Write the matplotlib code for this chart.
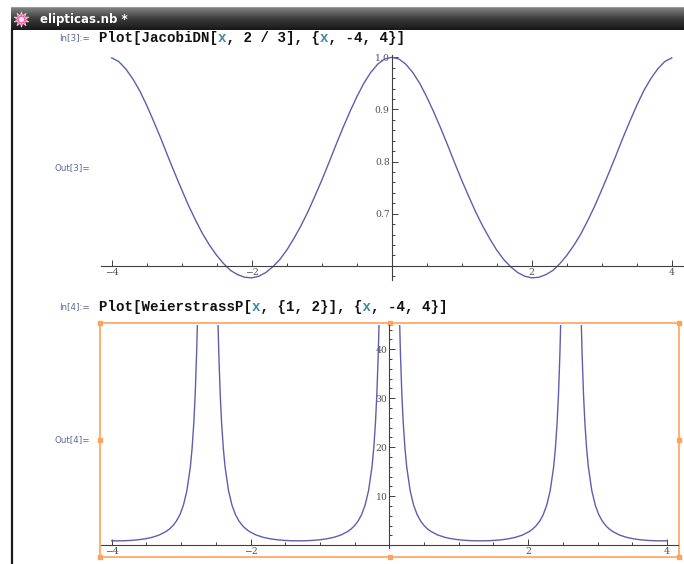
import numpy as np
import matplotlib.pyplot as plt
from matplotlib.patches import Rectangle
from matplotlib.ticker import MultipleLocator, FixedLocator
from matplotlib.colors import LinearSegmentedColormap

W, H = 684, 564

# JacobiDN[x, 2/3]
dn_x = [-4.0, -3.9, -3.8, -3.7, -3.6, -3.5, -3.4, -3.3, -3.2, -3.1,
        -3.0, -2.9, -2.8, -2.7, -2.6, -2.5, -2.4, -2.3, -2.2, -2.1,
        -2.0, -1.9, -1.8, -1.7, -1.6, -1.5, -1.4, -1.3, -1.2, -1.1,
        -1.0, -0.9, -0.8, -0.7, -0.6, -0.5, -0.4, -0.3, -0.2, -0.1,
        0.0, 0.1, 0.2, 0.3, 0.4, 0.5, 0.6, 0.7, 0.8, 0.9,
        1.0, 1.1, 1.2, 1.3, 1.4, 1.5, 1.6, 1.7, 1.8, 1.9,
        2.0, 2.1, 2.2, 2.3, 2.4, 2.5, 2.6, 2.7, 2.8, 2.9,
        3.0, 3.1, 3.2, 3.3, 3.4, 3.5, 3.6, 3.7, 3.8, 3.9, 4.0]
dn_y = [0.999, 0.992, 0.978, 0.959, 0.936, 0.908, 0.877, 0.845, 0.811, 0.778,
        0.746, 0.715, 0.687, 0.661, 0.639, 0.620, 0.604, 0.591, 0.583, 0.578,
        0.577, 0.580, 0.587, 0.598, 0.612, 0.630, 0.652, 0.676, 0.703, 0.733,
        0.764, 0.797, 0.831, 0.864, 0.895, 0.924, 0.950, 0.971, 0.987, 0.997,
        1.000, 0.997, 0.987, 0.971, 0.950, 0.924, 0.895, 0.864, 0.831, 0.797,
        0.764, 0.733, 0.703, 0.676, 0.652, 0.630, 0.612, 0.598, 0.587, 0.580,
        0.577, 0.578, 0.583, 0.591, 0.604, 0.620, 0.639, 0.661, 0.687, 0.715,
        0.746, 0.778, 0.811, 0.845, 0.877, 0.908, 0.936, 0.959, 0.978, 0.992, 0.999]

# WeierstrassP[x, {1, 2}], one list per branch
wp_x1 = [-4.000, -3.925, -3.817, -3.717, -3.617, -3.517, -3.417, -3.317, -3.217, -3.167,
         -3.117, -3.067, -3.017, -2.967, -2.917, -2.867, -2.842, -2.817, -2.797, -2.777,
         -2.767, -2.757]
wp_y1 = [0.91, 0.90, 0.92, 1.00, 1.12, 1.32, 1.62, 2.08, 2.81, 3.33,
         4.02, 4.95, 6.26, 8.17, 11.12, 16.00, 19.76, 25.00, 30.87, 39.06,
         44.45, 51.02]
wp_x2 = [-2.477, -2.467, -2.457, -2.437, -2.417, -2.392, -2.367, -2.317, -2.267, -2.217,
         -2.167, -2.117, -2.067, -2.017, -1.917, -1.817, -1.717, -1.617, -1.517, -1.417,
         -1.308, -1.200, -1.100, -1.000, -0.900, -0.800, -0.700, -0.600, -0.550, -0.500,
         -0.450, -0.400, -0.350, -0.300, -0.250, -0.225, -0.200, -0.180, -0.160, -0.150,
         -0.140]
wp_y2 = [51.02, 44.45, 39.06, 30.87, 25.00, 19.76, 16.00, 11.12, 8.17, 6.26,
         4.95, 4.02, 3.33, 2.81, 2.08, 1.62, 1.32, 1.12, 1.00, 0.92,
         0.90, 0.92, 1.00, 1.12, 1.32, 1.62, 2.08, 2.81, 3.33, 4.02,
         4.95, 6.26, 8.17, 11.12, 16.00, 19.76, 25.00, 30.87, 39.06, 44.45,
         51.02]
wp_x3 = [0.140, 0.150, 0.160, 0.180, 0.200, 0.225, 0.250, 0.300, 0.350, 0.400,
         0.450, 0.500, 0.550, 0.600, 0.700, 0.800, 0.900, 1.000, 1.100, 1.200,
         1.308, 1.417, 1.517, 1.617, 1.717, 1.817, 1.917, 2.017, 2.067, 2.117,
         2.167, 2.217, 2.267, 2.317, 2.367, 2.392, 2.417, 2.437, 2.457, 2.467,
         2.477]
wp_y3 = [51.02, 44.45, 39.06, 30.87, 25.00, 19.76, 16.00, 11.12, 8.17, 6.26,
         4.95, 4.02, 3.33, 2.81, 2.08, 1.62, 1.32, 1.12, 1.00, 0.92,
         0.90, 0.92, 1.00, 1.12, 1.32, 1.62, 2.08, 2.81, 3.33, 4.02,
         4.95, 6.26, 8.17, 11.12, 16.00, 19.76, 25.00, 30.87, 39.06, 44.45,
         51.02]
wp_x4 = [2.757, 2.767, 2.777, 2.797, 2.817, 2.842, 2.867, 2.917, 2.967, 3.017,
         3.067, 3.117, 3.167, 3.217, 3.317, 3.417, 3.517, 3.617, 3.717, 3.817,
         3.925, 4.000]
wp_y4 = [51.02, 44.45, 39.06, 30.87, 25.00, 19.76, 16.00, 11.12, 8.17, 6.26,
         4.95, 4.02, 3.33, 2.81, 2.08, 1.62, 1.32, 1.12, 1.00, 0.92,
         0.90, 0.91]

x_major = [-4, -2, 2, 4]
dn_major = [0.7, 0.8, 0.9, 1.0]
wp_major = [10, 20, 30, 40]

line_col = '#5e5eae'
axis_col = '#404040'
label_col = '#505050'
var_col = '#3f8c9c'
prompt_col = '#5a6a95'
orange = '#ffa35a'


def box(l, t, r, b):
    return [l / W, 1 - b / H, (r - l) / W, (b - t) / H]


fig = plt.figure(figsize=(W / 100, H / 100), dpi=100)
fig.patch.set_facecolor('white')

bg = fig.add_axes([0, 0, 1, 1])
bg.axis('off')

# window title bar
grad = np.linspace(0, 1, 40).reshape(-1, 1)
cmap = LinearSegmentedColormap.from_list('bar', ['#7e7e7e', '#3a3a3a', '#181818'])
bg.imshow(grad, cmap=cmap, extent=(11, W, 30, 8), aspect='auto', zorder=1)
bg.plot([11, W], [6.5, 6.5], color='#9a9a9a', lw=0.8)
bg.plot([12, 12], [30, H], color='#1a1a1a', lw=1.6)
bg.scatter([21], [19], marker=(10, 1, 0), s=120, color='#ff4f9e',
           edgecolor='#ffc6e0', lw=0.6, zorder=3)
bg.scatter([21], [19], marker='o', s=8, color='#fff0f6', zorder=4)
bg.text(40, 19, 'elipticas.nb *', color='white', fontsize=8.5,
        fontweight='bold', va='center', family='DejaVu Sans', zorder=4)


def code_line(x, y, s):
    # monospaced: draw black part and the coloured x's on the same grid
    plain = ''.join(' ' if c == 'x' else c for c in s)
    var = ''.join(c if c == 'x' else ' ' for c in s)
    kw = dict(fontsize=10.2, fontweight='bold', family='Liberation Mono',
              va='center', ha='left')
    bg.text(x, y, plain, color='#111111', **kw)
    bg.text(x, y, var, color=var_col, **kw)


bg.text(90, 38, 'In[3]:=', color=prompt_col, fontsize=6.3, ha='right', va='center')
code_line(99, 38, 'Plot[JacobiDN[x, 2 / 3], {x, -4, 4}]')
bg.text(90, 168, 'Out[3]=', color=prompt_col, fontsize=6.3, ha='right', va='center')

bg.text(90, 307, 'In[4]:=', color=prompt_col, fontsize=6.3, ha='right', va='center')
code_line(99, 307, 'Plot[WeierstrassP[x, {1, 2}], {x, -4, 4}]')
bg.text(90, 440, 'Out[4]=', color=prompt_col, fontsize=6.3, ha='right', va='center')

# selection frame round the second output
bg.add_patch(Rectangle((100, 323), 579, 234, fill=False, edgecolor=orange, lw=1.2))
for hx in (100, 389.5, 679):
    for hy in (323, 440, 557):
        if hx == 389.5 and hy == 440:
            continue
        bg.add_patch(Rectangle((hx - 2, hy - 2), 4, 4, color=orange, zorder=5))

bg.set_xlim(0, W)
bg.set_ylim(H, 0)


def style(ax, ycross, ymajor, yminor):
    ax.patch.set_alpha(0)
    for s in ('top', 'right'):
        ax.spines[s].set_visible(False)
    ax.spines['bottom'].set_position(('data', ycross))
    ax.spines['left'].set_position(('data', 0))
    for s in ('bottom', 'left'):
        ax.spines[s].set_color(axis_col)
        ax.spines[s].set_linewidth(0.8)
    ax.xaxis.set_major_locator(FixedLocator(x_major))
    ax.xaxis.set_minor_locator(MultipleLocator(0.5))
    ax.yaxis.set_major_locator(FixedLocator(ymajor))
    ax.yaxis.set_minor_locator(MultipleLocator(yminor))
    ax.tick_params(which='both', direction='in', color=axis_col, width=0.7,
                   labelsize=6.7, labelcolor=label_col)
    ax.tick_params(which='major', length=4.2)
    ax.tick_params(which='minor', length=2.4)
    ax.tick_params(axis='x', pad=1.5)
    ax.tick_params(axis='y', pad=1.5)
    for lab in ax.get_xticklabels() + ax.get_yticklabels():
        lab.set_family('DejaVu Serif')


ax1 = fig.add_axes(box(100.5, 55.0, 683, 279.9))
ax1.plot(dn_x, dn_y, color=line_col, lw=1.0)
ax1.set_xlim(-4.16, 4.16)
ax1.set_ylim(0.573, 1.0045)
style(ax1, 0.6, dn_major, 0.02)
ax1.set_yticklabels(['0.7', '0.8', '0.9', '1.0'])

ax2 = fig.add_axes(box(100.6, 324.8, 678.1, 548.2))
for bx, by in ((wp_x1, wp_y1), (wp_x2, wp_y2), (wp_x3, wp_y3), (wp_x4, wp_y4)):
    ax2.plot(bx, by, color=line_col, lw=1.0)
ax2.set_xlim(-4.16, 4.16)
ax2.set_ylim(-0.6, 45)
style(ax2, 0, wp_major, 2)

fig.savefig('out.png', dpi=100)
